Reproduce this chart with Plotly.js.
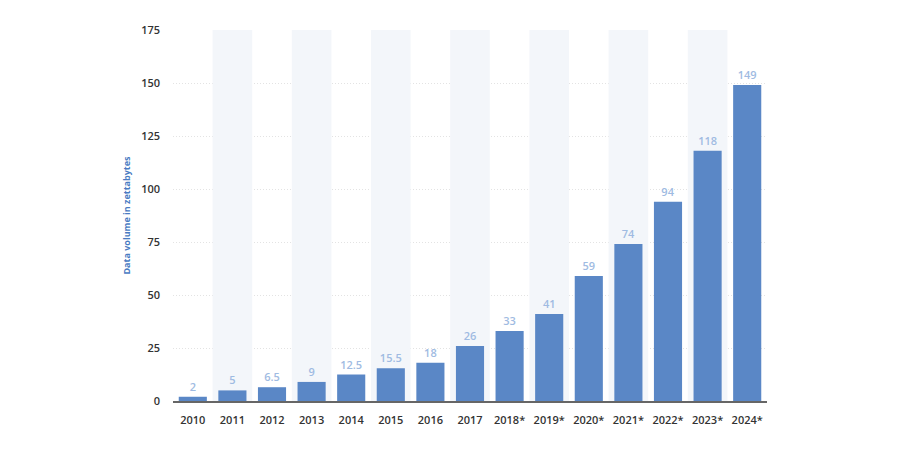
<!DOCTYPE html>
<html>
<head>
<meta charset="utf-8">
<script src="https://cdn.plot.ly/plotly-3.0.1.min.js"></script>
<style>body{margin:0;background:#fff}#chart{width:900px;height:450px}</style>
</head>
<body>
<div id="chart"></div>
<script>
var years = ['2010','2011','2012','2013','2014','2015','2016','2017','2018*','2019*','2020*','2021*','2022*','2023*','2024*'];
var volume = [2, 5, 6.5, 9, 12.5, 15.5, 18, 26, 33, 41, 59, 74, 94, 118, 149];
var labels = ['2', '5', '6.5', '9', '12.5', '15.5', '18', '26', '33', '41', '59', '74', '94', '118', '149'];
var yMax = 175;

// alternating background bands, every second category
var bandX = years.filter(function (d, i) { return i % 2 === 1; });
var bandY = bandX.map(function () { return yMax; });

var bands = {
  type: 'bar', x: bandX, y: bandY, width: 1,
  marker: {color: '#f3f6fa', line: {width: 0}},
  hoverinfo: 'skip', showlegend: false
};

var bars = {
  type: 'bar', x: years, y: volume,
  text: labels, textposition: 'outside', cliponaxis: false,
  textfont: {family: 'Open Sans, sans-serif', size: 11, color: '#9fbbe2', weight: 600},
  marker: {color: '#5a87c6', line: {width: 0}},
  width: 0.71,
  showlegend: false
};

var tickFont = {size: 11, color: '#333', family: 'Open Sans, sans-serif', weight: 600};

var layout = {
  width: 900, height: 450,
  margin: {l: 173, r: 133, t: 30, b: 49},
  paper_bgcolor: '#fff', plot_bgcolor: '#fff',
  barmode: 'overlay',
  font: {family: 'Open Sans, sans-serif', color: '#333'},
  xaxis: {
    type: 'category', categoryorder: 'array', categoryarray: years,
    showgrid: false, showline: true, linecolor: '#666', linewidth: 2,
    ticks: '', tickfont: tickFont, ticklabelstandoff: 8,
    zeroline: false
  },
  yaxis: {
    range: [0, yMax], dtick: 25, tick0: 0,
    showgrid: true, gridcolor: '#e3e3e3', griddash: '1px,2px', gridwidth: 1,
    zeroline: false, showline: false, ticks: '', ticklen: 0,
    tickfont: tickFont, ticklabelstandoff: 12,
    title: {text: 'Data volume in zettabytes', standoff: 8,
      font: {size: 9, color: '#4a7bc2', family: 'Open Sans, sans-serif', weight: 'bold'}}
  }
};

Plotly.newPlot('chart', [bands, bars], layout, {displayModeBar: false, staticPlot: true});
</script>
</body>
</html>
